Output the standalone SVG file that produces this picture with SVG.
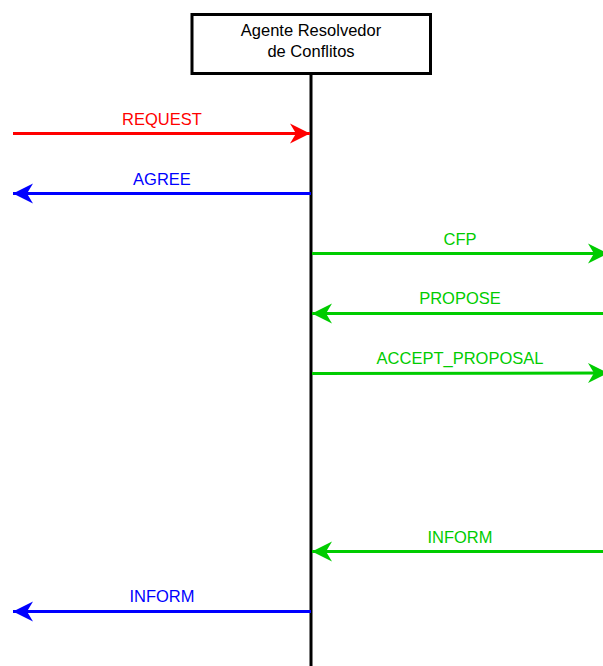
<svg xmlns="http://www.w3.org/2000/svg" width="603" height="666" viewBox="0 0 603 666">
  <defs>
    <style>
      text { font-family: "Liberation Sans", Arial, sans-serif; font-size: 16.5px; text-anchor: middle; }
      .msg { fill: none; stroke-width: 3; }
      .red { stroke: #ff0000; }
      .blue { stroke: #0000ff; }
      .green { stroke: #00cc00; }
      .t-red { fill: #ff0000; }
      .t-blue { fill: #0000ff; }
      .t-green { fill: #00cc00; }
    </style>
    <marker id="head-red" markerUnits="userSpaceOnUse" markerWidth="22" markerHeight="22" viewBox="-21 -11 22 22" refX="0" refY="0" orient="auto">
      <path d="M0,0 L-20,-10 L-14,0 L-20,10 Z" fill="#ff0000"/>
    </marker>
    <marker id="head-blue" markerUnits="userSpaceOnUse" markerWidth="22" markerHeight="22" viewBox="-21 -11 22 22" refX="0" refY="0" orient="auto">
      <path d="M0,0 L-20,-10 L-14,0 L-20,10 Z" fill="#0000ff"/>
    </marker>
    <marker id="head-green" markerUnits="userSpaceOnUse" markerWidth="22" markerHeight="22" viewBox="-21 -11 22 22" refX="0" refY="0" orient="auto">
      <path d="M0,0 L-20,-10 L-14,0 L-20,10 Z" fill="#00cc00"/>
    </marker>
  </defs>

  <rect width="603" height="666" fill="#ffffff"/>

  <!-- Agent with its lifeline -->
  <g id="agente-resolvedor">
    <line x1="311" y1="74" x2="311" y2="666" stroke="#000000" stroke-width="3"/>
    <rect x="192" y="14.5" width="238.5" height="59" fill="#ffffff" stroke="#000000" stroke-width="3"/>
    <text x="311" y="36">Agente Resolvedor</text>
    <text x="311" y="57">de Conflitos</text>
  </g>

  <!-- Messages -->
  <g id="connectors">
    <line class="msg red" x1="13" y1="133.5" x2="310" y2="133.5" marker-end="url(#head-red)"/>
    <line class="msg blue" x1="311" y1="193.5" x2="13" y2="193.5" marker-end="url(#head-blue)"/>
    <line class="msg green" x1="312" y1="253.5" x2="608" y2="253.5" marker-end="url(#head-green)"/>
    <line class="msg green" x1="608" y1="313.5" x2="312" y2="313.5" marker-end="url(#head-green)"/>
    <line class="msg green" x1="312" y1="373.5" x2="608" y2="373" marker-end="url(#head-green)"/>
    <line class="msg green" x1="608" y1="551.5" x2="312" y2="551.5" marker-end="url(#head-green)"/>
    <line class="msg blue" x1="311" y1="611.5" x2="13" y2="611.5" marker-end="url(#head-blue)"/>
  </g>

  <!-- Message labels -->
  <g id="labels">
    <text class="t-red" x="162" y="125">REQUEST</text>
    <text class="t-blue" x="162" y="185">AGREE</text>
    <text class="t-green" x="460" y="245">CFP</text>
    <text class="t-green" x="460" y="304">PROPOSE</text>
    <text class="t-green" x="460" y="364">ACCEPT_PROPOSAL</text>
    <text class="t-green" x="460" y="543">INFORM</text>
    <text class="t-blue" x="162" y="602">INFORM</text>
  </g>
</svg>
